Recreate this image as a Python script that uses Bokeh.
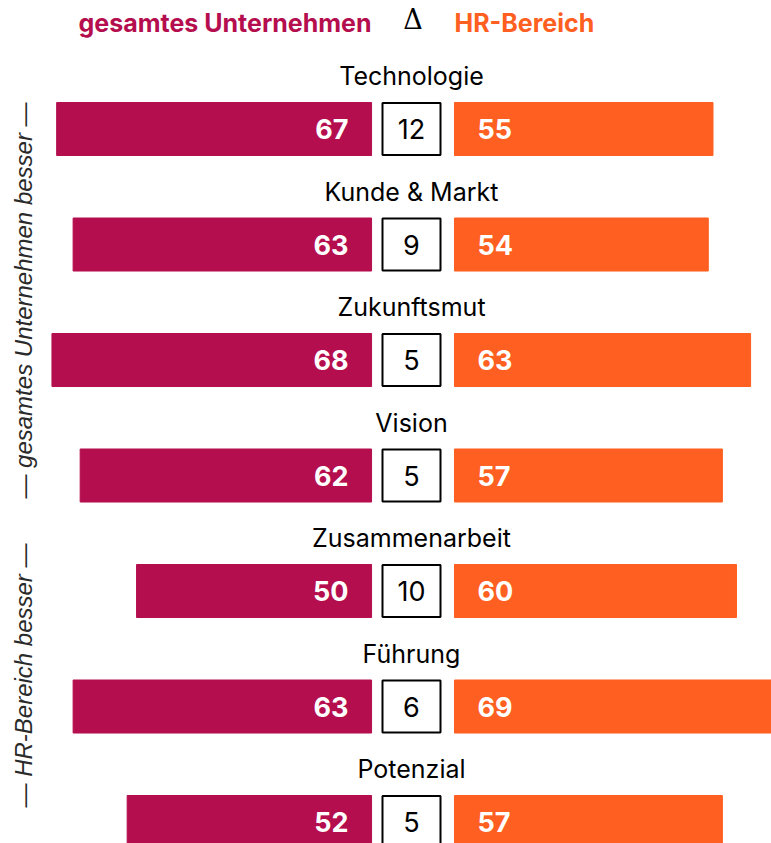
import math
from bokeh.plotting import figure
from bokeh.models import Range1d, Label, ColumnDataSource
from bokeh.core.properties import value
from bokeh.embed import file_html
from bokeh.resources import INLINE

categories = ["Technologie", "Kunde & Markt", "Zukunftsmut", "Vision",
              "Zusammenarbeit", "Führung", "Potenzial"]
gesamt = [67, 63.5, 68, 62, 50, 63.5, 52]
hr = [55, 54, 63, 57, 60, 69, 57]
delta = [12, 9, 5, 5, 10, 6, 5]
gesamt_labels = ["67", "63", "68", "62", "50", "63", "52"]
hr_labels = ["55", "54", "63", "57", "60", "69", "57"]

CRIMSON = "#B50E4E"
ORANGE = "#FF5F20"
FONT = "Inter"

rows = list(range(len(categories)))
GAP_L = 8.5   # gap between box center and left bars (value units)
GAP_R = 9.15  # gap between box center and right bars

src = ColumnDataSource(dict(
    y=rows, cat=categories, d=[str(v) for v in delta],
    gl=[-GAP_L - v for v in gesamt], gr=[-GAP_L] * len(rows),
    hl=[GAP_R] * len(rows), hr_=[GAP_R + v for v in hr],
    gs=gesamt_labels, hs=hr_labels,
    zero=[0] * len(rows),
))

p = figure(width=771, height=843, output_backend="svg", toolbar_location=None,
           x_range=Range1d(-87.45, 76.6), y_range=Range1d(6.186, -1.1126),
           min_border=0)
p.axis.visible = False
p.grid.visible = False
p.outline_line_color = None
p.background_fill_color = "white"
p.border_fill_color = "white"

p.hbar(y="y", left="gl", right="gr", height=0.459, color=CRIMSON, source=src)
p.hbar(y="y", left="hl", right="hr_", height=0.459, color=ORANGE, source=src)
p.rect(x="zero", y="y", width=58, height=52, width_units="screen", height_units="screen",
       fill_color="white", line_color="black", line_width=2, source=src)

p.text(x="gr", y="y", text="gs", x_offset=-23, text_align="right", text_baseline="middle",
       text_color="white", text_font=value(FONT), text_font_style="bold",
       text_font_size="27px", source=src)
p.text(x="hl", y="y", text="hs", x_offset=23, text_align="left", text_baseline="middle",
       text_color="white", text_font=value(FONT), text_font_style="bold",
       text_font_size="27px", source=src)
p.text(x="zero", y="y", text="d", text_align="center", text_baseline="middle",
       text_color="black", text_font=value(FONT), text_font_size="27px", source=src)
p.text(x="zero", y="y", text="cat", y_offset=-53, text_align="center", text_baseline="middle",
       text_color="black", text_font=value(FONT), text_font_size="25px", source=src)

# header
p.add_layout(Label(x=-GAP_L, y=-0.922, text="gesamtes Unternehmen", text_align="right",
                   text_baseline="middle", text_color=CRIMSON, text_font=FONT,
                   text_font_style="bold", text_font_size="25px"))
p.add_layout(Label(x=0.3, y=-0.95, text="Δ", text_align="center",
                   text_baseline="middle", text_color="black", text_font="DejaVu Serif",
                   text_font_size="27px"))
p.add_layout(Label(x=GAP_R, y=-0.922, text="HR-Bereich", text_align="left",
                   text_baseline="middle", text_color=ORANGE, text_font=FONT,
                   text_font_style="bold", text_font_size="25px"))

# side labels
p.add_layout(Label(x=23, y=543, x_units="screen", y_units="screen",
                   text="— gesamtes Unternehmen besser —", angle=math.pi / 2,
                   text_align="center", text_baseline="middle", text_color="#2a2a2a",
                   text_font="Liberation Sans", text_font_style="italic",
                   text_font_size="24px"))
p.add_layout(Label(x=23, y=168, x_units="screen", y_units="screen",
                   text="— HR-Bereich besser —", angle=math.pi / 2,
                   text_align="center", text_baseline="middle", text_color="#2a2a2a",
                   text_font="Liberation Sans", text_font_style="italic",
                   text_font_size="24px"))

open("out.html", "w").write(file_html(p, INLINE))
